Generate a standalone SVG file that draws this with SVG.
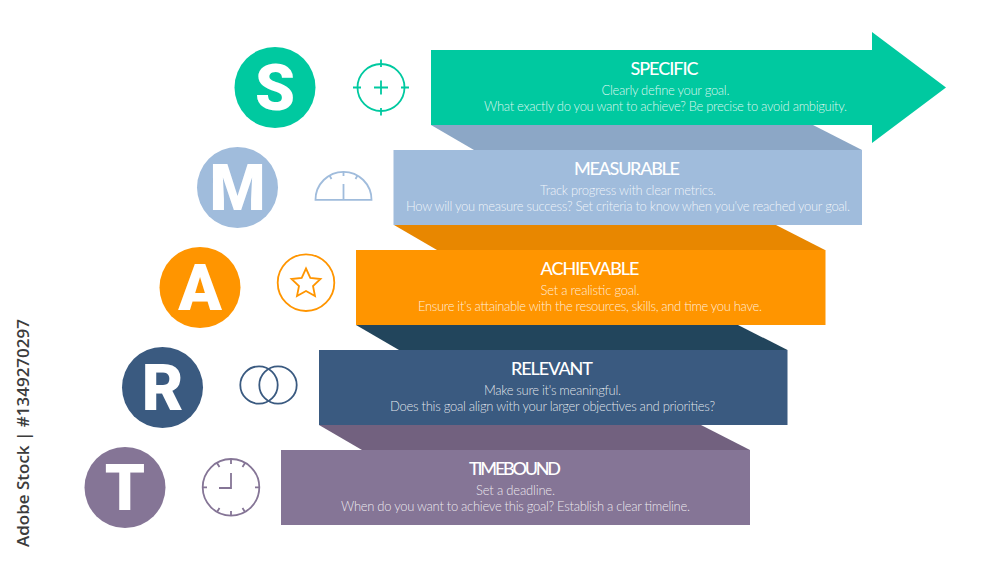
<svg xmlns="http://www.w3.org/2000/svg" width="1000" height="563" viewBox="0 0 1000 563">
<style>
.t{font-family:"Lato","Liberation Sans",sans-serif;font-size:18px;font-weight:500;fill:#fff;text-anchor:middle}
.b{font-family:"Lato","Liberation Sans",sans-serif;font-size:13px;font-weight:300;fill:#fff;fill-opacity:.85;text-anchor:middle}
.l{font-family:"Roboto","Liberation Sans",sans-serif;font-size:64px;font-weight:900;fill:#fff;text-anchor:middle}
.i{fill:none;stroke-width:1.8}
</style>
<rect width="1000" height="563" fill="#fff"/>
<g id="connectors">
<polygon points="431,125 474,150 862,150 813,125" fill="#8CA7C6"/>
<polygon points="394,225 437,250 825,250 776,225" fill="#E88700"/>
<polygon points="356,325 399,350 787.5,350 738,325" fill="#22455C"/>
<polygon points="319,425 362,450 750,450 701,425" fill="#72617F"/>
</g>
<g id="specific">
<circle cx="275" cy="87.5" r="40.5" fill="#00C9A0"/><text class="l" x="275" y="109.500">S</text>
<g class="i" stroke="#00C9A0"><circle cx="381" cy="87.5" r="23.5"/><path d="M381 59.500V67M381 108V115.500M353 87.500H361M401 87.500H409M374 87.500H388M381 80.500V94.500"/></g>
<polygon points="431,50 872,50 872,32 946,87.500 872,143 872,125 431,125" fill="#00C9A0"/>
<text class="t" x="664.500" y="74.500" textLength="68">SPECIFIC</text>
<text class="b" x="665.500" y="95" textLength="128">Clearly define your goal.</text>
<text class="b" x="665.500" y="110.500" textLength="363">What exactly do you want to achieve? Be precise to avoid ambiguity.</text>
</g>
<g id="measurable">
<circle cx="237.500" cy="187.500" r="40.500" fill="#A0BCDC"/><text class="l" x="237.500" y="210">M</text>
<g class="i" stroke="#A0BCDC"><path d="M315.500 199.800A28 28 0 0 1 371.500 199.800Z"/><path d="M343.500 184V199.800M343.500 171.800V176M329.500 175.500L331.500 179M357.500 175.500L355.500 179"/></g>
<rect x="393.500" y="150" width="468.500" height="75" fill="#A0BCDC"/>
<text class="t" x="627" y="174.500" textLength="106">MEASURABLE</text>
<text class="b" x="628" y="195" textLength="176">Track progress with clear metrics.</text>
<text class="b" x="628" y="210.500" textLength="444">How will you measure success? Set criteria to know when you've reached your goal.</text>
</g>
<g id="achievable">
<circle cx="200" cy="287.500" r="40.500" fill="#FF9500"/><text class="l" x="200" y="310">A</text>
<g class="i" stroke="#FF9500"><circle cx="306" cy="282.700" r="28.300"/><polygon points="306,268.500 310.300,277.800 320.500,279 313,286 315,296 306,291 297,296 299,286 291.500,279 301.700,277.800"/></g>
<rect x="356" y="250" width="469.500" height="75" fill="#FF9500"/>
<text class="t" x="590" y="274.500" textLength="99">ACHIEVABLE</text>
<text class="b" x="590" y="295" textLength="99">Set a realistic goal.</text>
<text class="b" x="590" y="310.500" textLength="344">Ensure it's attainable with the resources, skills, and time you have.</text>
</g>
<g id="relevant">
<circle cx="162.500" cy="387.500" r="40.500" fill="#3A5A80"/><text class="l" x="162.500" y="410">R</text>
<g class="i" stroke="#3A5A80"><circle cx="259" cy="385" r="18.700"/><circle cx="278" cy="385" r="18.700"/></g>
<rect x="319" y="350" width="468.500" height="75" fill="#3A5A80"/>
<text class="t" x="552" y="374.500" textLength="82">RELEVANT</text>
<text class="b" x="552.500" y="395" textLength="137">Make sure it's meaningful.</text>
<text class="b" x="552.500" y="410.500" textLength="325">Does this goal align with your larger objectives and priorities?</text>
</g>
<g id="timebound">
<circle cx="125" cy="487.500" r="40.500" fill="#857596"/><text class="l" x="125" y="510">T</text>
<g class="i" stroke="#857596"><circle cx="231" cy="487.300" r="28.300"/><path d="M231 473V488H219M231 459V464M231 511V516M202.700 487.300H207M255 487.300H259.300M245 463L242.500 467M217 463L219.500 467M245 512L242.500 508M217 512L219.500 508"/></g>
<rect x="281" y="450" width="469" height="75" fill="#857596"/>
<text class="t" x="515" y="474.500" textLength="92">TIMEBOUND</text>
<text class="b" x="515.500" y="495" textLength="79">Set a deadline.</text>
<text class="b" x="515.500" y="510.500" textLength="349">When do you want to achieve this goal? Establish a clear timeline.</text>
</g>
<text transform="translate(28.500 547) rotate(-90)" font-family="'Open Sans','Noto Sans',sans-serif" font-size="17" font-weight="600" fill="#3c3c3c" textLength="228">Adobe Stock | #1349270297</text>
</svg>
